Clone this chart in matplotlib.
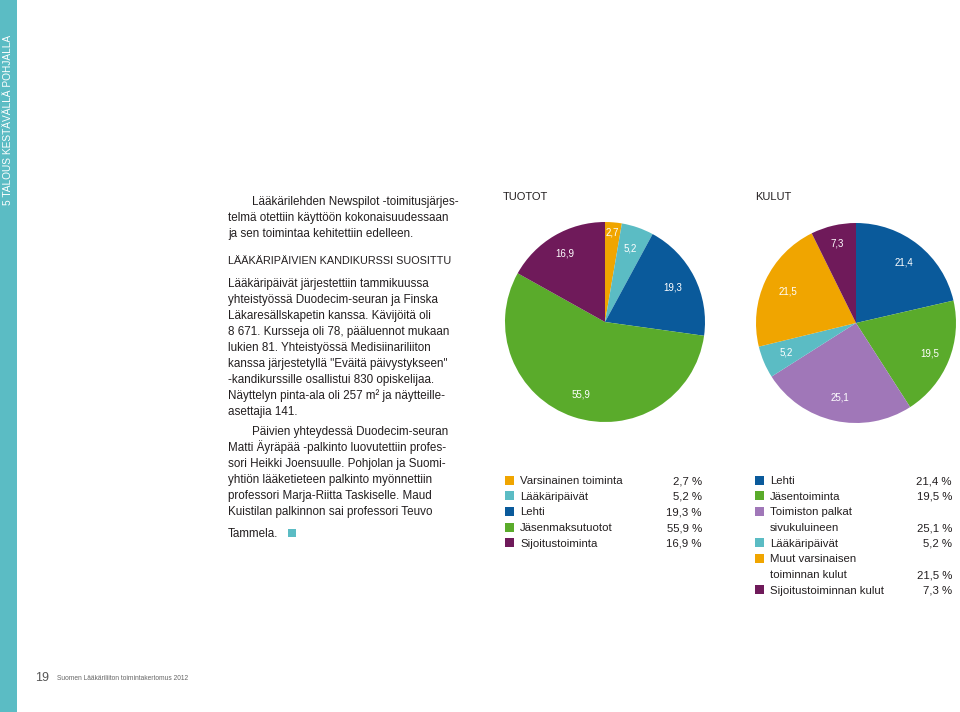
import matplotlib
matplotlib.use("Agg")
import matplotlib.pyplot as plt
from matplotlib.patches import Rectangle
import numpy as np

plt.rcParams['font.family'] = ['Liberation Sans', 'DejaVu Sans']

# data
tuotot_labels = ["Varsinainen toiminta", "Lääkäripäivät", "Lehti",
                 "Jäsenmaksutuotot", "Sijoitustoiminta"]
tuotot_values = [2.7, 5.2, 19.3, 55.9, 16.9]
tuotot_colors = ["#f0a500", "#5bbcc4", "#0a5a9b", "#5aab2b", "#6f1a5a"]

kulut_labels = ["Lehti", "Jäsentoiminta", "Toimiston palkat\nsivukuluineen",
                "Lääkäripäivät", "Muut varsinaisen\ntoiminnan kulut",
                "Sijoitustoiminnan kulut"]
kulut_values = [21.4, 19.5, 25.1, 5.2, 21.5, 7.3]
kulut_colors = ["#0a5a9b", "#5aab2b", "#a077b8", "#5bbcc4", "#f0a500", "#6f1a5a"]

# (indent, text)
para1 = [
    (True, "Lääkärilehden Newspilot -toimitusjärjes-"),
    (False, "telmä otettiin käyttöön kokonaisuudessaan"),
    (False, "ja sen toimintaa kehitettiin edelleen."),
]
para2 = [
    (False, "Lääkäripäivät järjestettiin tammikuussa"),
    (False, "yhteistyössä Duodecim-seuran ja Finska"),
    (False, "Läkaresällskapetin kanssa. Kävijöitä oli"),
    (False, "8 671. Kursseja oli 78, pääluennot mukaan"),
    (False, "lukien 81. Yhteistyössä Medisiinariliiton"),
    (False, "kanssa järjestetyllä \"Eväitä päivystykseen\""),
    (False, "-kandikurssille osallistui 830 opiskelijaa."),
    (False, "Näyttelyn pinta-ala oli 257 m² ja näytteille-"),
    (False, "asettajia 141."),
]
para3 = [
    (True, "Päivien yhteydessä Duodecim-seuran"),
    (False, "Matti Äyräpää -palkinto luovutettiin profes-"),
    (False, "sori Heikki Joensuulle. Pohjolan ja Suomi-"),
    (False, "yhtiön lääketieteen palkinto myönnettiin"),
    (False, "professori Marja-Riitta Taskiselle. Maud"),
    (False, "Kuistilan palkinnon sai professori Teuvo"),
    (False, "Tammela."),
]

W, H = 960, 712
teal = "#5bbcc4"
txt = "#231f20"

fig = plt.figure(figsize=(W / 100, H / 100), dpi=100)
bg = fig.add_axes([0, 0, 1, 1])
bg.set_xlim(0, W)
bg.set_ylim(H, 0)
bg.axis("off")

# sidebar
bg.add_patch(Rectangle((0, 0), 17, H, color=teal, lw=0))
bg.text(8.5, 205, "5 TALOUS KESTÄVÄLLÄ POHJALLA", rotation=90, color="white",
        fontsize=7.3, ha="center", va="bottom")

# footer
bg.text(35, 681, "19", fontsize=9, color="#555555", va="baseline")
bg.text(57, 680, "Suomen Lääkäriliiton toimintakertomus 2012", fontsize=4.75,
        color="#666666", va="baseline")

fs = 8.4
lh = 16
x0 = 228


def paragraph(lines, y_first):
    for i, (ind, s) in enumerate(lines):
        bg.text(x0 + (24 if ind else 0), y_first + i * lh, s, fontsize=fs,
                color=txt, va="baseline")


paragraph(para1, 205)
bg.text(x0, 264, "LÄÄKÄRIPÄIVIEN KANDIKURSSI SUOSITTU", fontsize=7.8, color=txt,
        va="baseline")
paragraph(para2, 287)
paragraph(para3[:-1], 435)
tam = bg.text(x0, 537, para3[-1][1], fontsize=fs, color=txt, va="baseline")
bg.add_patch(Rectangle((288, 529), 8, 8, color=teal, lw=0))

# titles
bg.text(503, 200, "TUOTOT", fontsize=8, color=txt, va="baseline")
bg.text(755, 200, "KULUT", fontsize=8, color=txt, va="baseline")


def draw_pie(cx, cy, values, colors, dists):
    r = 100
    ax = fig.add_axes([(cx - r) / W, (H - cy - r) / H, 2 * r / W, 2 * r / H])
    wedges, _ = ax.pie(values, colors=colors, startangle=90, counterclock=False,
                       wedgeprops=dict(linewidth=0))
    ax.set_xlim(-1, 1)
    ax.set_ylim(-1, 1)
    ax.set_aspect("equal")
    ax.axis("off")
    for w, v, d in zip(wedges, values, dists):
        ang = np.deg2rad((w.theta1 + w.theta2) / 2)
        ax.text(d * np.cos(ang), d * np.sin(ang), f"{v:.1f}".replace(".", ","),
                color="white", fontsize=7, ha="center", va="center")


draw_pie(605, 322, tuotot_values, tuotot_colors, [0.9, 0.78, 0.76, 0.76, 0.79])
draw_pie(856, 323, kulut_values, kulut_colors, [0.77, 0.8, 0.76, 0.76, 0.75, 0.82])


def draw_legend(x_sq, x_val, labels, values, colors):
    row = 0
    for lab, v, c in zip(labels, values, colors):
        y = 480 + row * 15.7
        bg.add_patch(Rectangle((x_sq, y - 4.5), 9, 9, color=c, lw=0))
        lines = lab.split("\n")
        for j, ln in enumerate(lines):
            bg.text(x_sq + 15, y + 4 + j * 15.7, ln, fontsize=8.2, color=txt,
                    va="baseline")
        bg.text(x_val, y + 4 + (len(lines) - 1) * 15.7,
                f"{v:.1f} %".replace(".", ","),
                fontsize=8.2, color=txt, va="baseline", ha="right")
        row += len(lines)


draw_legend(505, 702, tuotot_labels, tuotot_values, tuotot_colors)
draw_legend(755, 952, kulut_labels, kulut_values, kulut_colors)

fig.savefig("out.png", dpi=100)
